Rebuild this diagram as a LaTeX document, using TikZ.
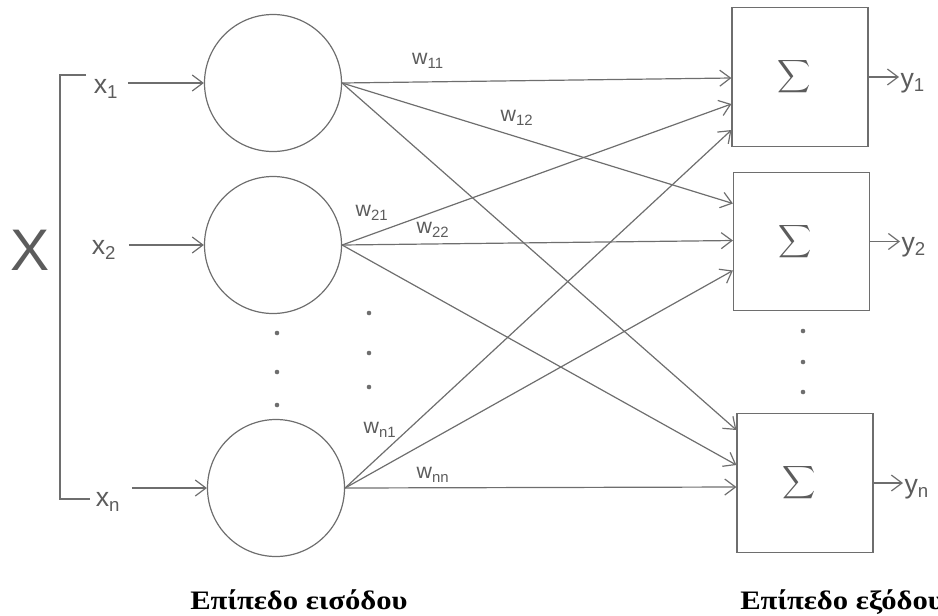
\documentclass[tikz,border=0pt]{standalone}
\usepackage{fontspec}
\usepackage{exscale}
\setmainfont{Liberation Serif}
\newfontfamily\lblfont{Liberation Sans}
\usetikzlibrary{arrows.meta,calc}
\definecolor{cLine}{HTML}{6E6E6E}
\definecolor{cText}{HTML}{5C5C5C}
\tikzset{
  >={Straight Barb[length=8pt,width=12pt]},
  neuron/.style ={circle,draw=cLine,line width=0.9pt,minimum size=102.75pt,inner sep=0pt},
  sumbox/.style ={rectangle,draw=cLine,line width=0.9pt,minimum width=102pt,
                  minimum height=104pt,inner sep=0pt,text=cText,font=\fontsize{18}{20}\selectfont},
  wire/.style   ={->,cLine,line width=0.9pt},
  xlbl/.style   ={font=\lblfont\fontsize{20}{22}\selectfont,text=cText,inner sep=1pt},
  wlbl/.style   ={font=\lblfont\fontsize{16}{18}\selectfont,text=cText,inner sep=1pt},
  layer/.style  ={font=\bfseries\fontsize{20}{22}\selectfont,text=black,inner sep=0pt,anchor=base west},
}
\newcommand{\sumsign}{\hspace*{-9pt}$\displaystyle\sum$}
\begin{document}
\begin{tikzpicture}[x=0.75pt,y=-0.75pt]
\useasboundingbox (0,0) rectangle (938,615);
% input layer
\node[neuron] (in1) at (273,83) {};
\node[neuron] (in2) at (273,245) {};
\node[neuron] (inn) at (276,488) {};
% output layer
\node[sumbox] (out1) at (800,77) {\sumsign};
\node[sumbox] (out2) at (801.5,241.5) {\sumsign};
\node[sumbox] (outn) at (805,483) {\sumsign};
% inputs
\node[xlbl,font=\lblfont\fontsize{44}{46}\selectfont] (X) at (30,250) {X};
\node[xlbl] (x1) at (106,89) {x\textsubscript{1}};
\node[xlbl] (x2) at (104,250) {x\textsubscript{2}};
\node[xlbl] (xn) at (108,502) {x\textsubscript{n}};
\draw[cLine,line width=0.9pt] (86,75) -- (60,75) -- (60,499) -- (90,499);
\draw[wire] ($(in1.west)+(-76,0)$) -- (in1.west);
\draw[wire] ($(in2.west)+(-75,0)$) -- (in2.west);
\draw[wire] ($(inn.west)+(-75,0)$) -- (inn.west);
% weights
\draw[wire] (in1.east) -- ($(out1.west)+(0,1)$);
\draw[wire] (in1.east) -- ($(out2.west)+(0,-38)$);
\draw[wire] (in1.east) -- ($(outn.west)+(0,-53)$);
\draw[wire] (in2.east) -- ($(out1.west)+(0,27)$);
\draw[wire] (in2.east) -- ($(out2.west)+(0,-1)$);
\draw[wire] (in2.east) -- ($(outn.west)+(0,-18)$);
\draw[wire] (inn.east) -- ($(out1.west)+(0,53)$);
\draw[wire] (inn.east) -- ($(out2.west)+(0,29)$);
\draw[wire] (inn.east) -- ($(outn.west)+(0,4)$);
\node[wlbl] (w11) at (428,61) {w\textsubscript{11}};
\node[wlbl] (w12) at (517,118) {w\textsubscript{12}};
\node[wlbl] (w21) at (372,213) {w\textsubscript{21}};
\node[wlbl] (w22) at (433,230) {w\textsubscript{22}};
\node[wlbl] (wn1) at (380,430) {w\textsubscript{n1}};
\node[wlbl] (wnn) at (433,475) {w\textsubscript{nn}};
% dots
\foreach \y in {333,372,405} \fill[cLine] (277,\y) circle (2.3);
\foreach \y in {313,353,387} \fill[cLine] (369,\y) circle (2.3);
\foreach \y in {331,362,392} \fill[cLine] (803,\y) circle (2.3);
% outputs
\node[xlbl,anchor=west] (y1) at (899,83) {y\textsubscript{1}};
\node[xlbl,anchor=west] (y2) at (900,247) {y\textsubscript{2}};
\node[xlbl,anchor=west] (yn) at (903,489) {y\textsubscript{n}};
\draw[wire] (out1.east) -- (out1.east -| y1.west);
\draw[wire] (out2.east) -- (out2.east -| y2.west);
\draw[wire] (outn.east) -- (outn.east -| yn.west);
% layer captions
\node[layer] (inlayer) at (190,609) {\scalebox{1.15}[1]{Επίπεδο εισόδου}};
\node[layer] (outlayer) at (740,609) {\scalebox{1.15}[1]{Επίπεδο εξόδου}};
\end{tikzpicture}
\end{document}
